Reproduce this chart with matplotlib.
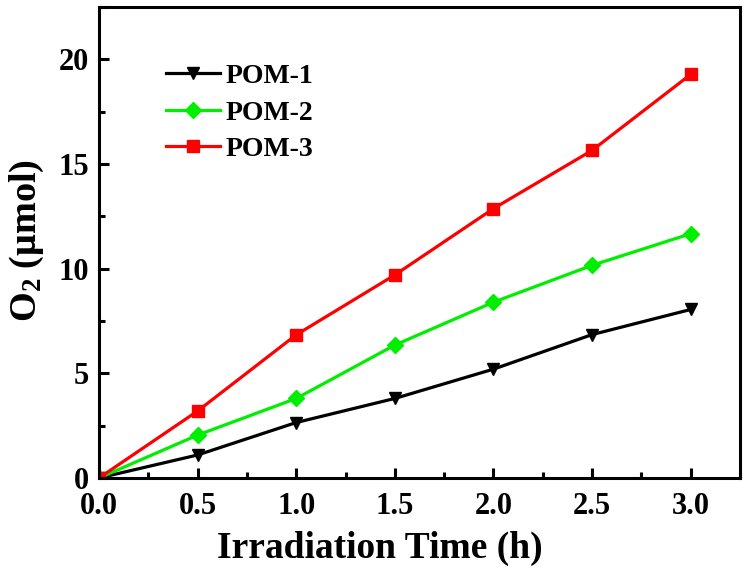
import matplotlib
matplotlib.use("Agg")
import matplotlib.pyplot as plt
from matplotlib.ticker import MultipleLocator

plt.rcParams['font.family'] = ['Liberation Serif', 'DejaVu Serif']
plt.rcParams['font.weight'] = 'bold'
plt.rcParams['mathtext.fontset'] = 'custom'
plt.rcParams['mathtext.rm'] = 'Liberation Serif:bold'
plt.rcParams['mathtext.bf'] = 'Liberation Serif:bold'
plt.rcParams['mathtext.it'] = 'Liberation Serif:bold:italic'

time_h = [0.0, 0.5, 1.0, 1.5, 2.0, 2.5, 3.0]
pom1 = [0.0, 1.1, 2.65, 3.8, 5.2, 6.85, 8.05]
pom2 = [0.0, 2.05, 3.8, 6.35, 8.4, 10.16, 11.67]
pom3 = [0.0, 3.2, 6.84, 9.7, 12.87, 15.65, 19.28]
labels = ["POM-1", "POM-2", "POM-3"]

fig = plt.figure(figsize=(7.47, 5.70), dpi=100)
ax = fig.add_axes([0.1325, 0.1614, 0.9906 - 0.1325, 0.9877 - 0.1614])

ax.plot(time_h, pom1, color='black', marker='v', ms=9, lw=2.3, label=labels[0])
ax.plot(time_h, pom2, color='#00ee00', marker='D', ms=8, lw=2.3, label=labels[1])
ax.plot(time_h, pom3, color='#ff0000', marker='s', ms=8, lw=2.3, label=labels[2])

ax.set_xlim(0, 3.25)
ax.set_ylim(0, 22.5)
ax.xaxis.set_major_locator(MultipleLocator(0.5))
ax.xaxis.set_minor_locator(MultipleLocator(0.25))
ax.yaxis.set_major_locator(MultipleLocator(5))
ax.yaxis.set_minor_locator(MultipleLocator(2.5))
ax.xaxis.set_major_formatter(matplotlib.ticker.FormatStrFormatter('%.1f'))

for s in ax.spines.values():
    s.set_linewidth(2.2)
ax.tick_params(which='both', direction='in', top=False, right=False, width=2.2, labelsize=22)
ax.tick_params(which='major', length=7)
ax.tick_params(axis='x', which='major', pad=10)
ax.tick_params(axis='y', which='major', pad=7)
ax.tick_params(which='minor', length=4)

ax.set_xlabel('Irradiation Time (h)', fontsize=27, fontweight='bold')
ax.xaxis.set_label_coords(0.438, -0.15, transform=ax.transAxes)
ax.xaxis.label.set_va('center')
ax.set_ylabel('O$_2$ (μmol)', fontsize=27.5, fontweight='bold')
ax.yaxis.set_label_coords(-0.112, 0.505, transform=ax.transAxes)
ax.yaxis.label.set_va('center')

leg = ax.legend(loc='upper left', bbox_to_anchor=(0.105, 0.88), frameon=False,
                fontsize=20, handlelength=1.95, labelspacing=0.4, handletextpad=0.2,
                borderaxespad=0, borderpad=0)

fig.savefig('out.png', dpi=100)
